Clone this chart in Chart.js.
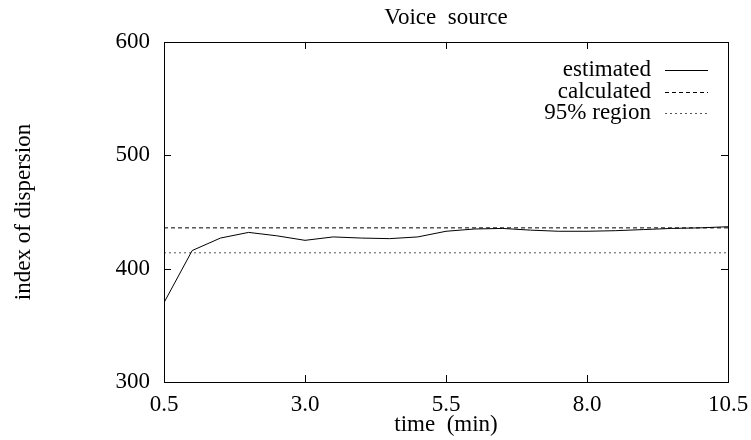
<!DOCTYPE html>
<html>
<head>
<meta charset="utf-8">
<script src="https://cdn.jsdelivr.net/npm/chart.js@4.4.1/dist/chart.umd.min.js"></script>
<style>
  html, body { margin: 0; padding: 0; background: #fff; }
  #wrap { width: 751px; height: 440px; }
</style>
</head>
<body>
<div id="wrap"><canvas id="chart" width="751" height="440"></canvas></div>
<script>
// time (min) for each estimate
var times = [0.5, 1.0, 1.5, 2.0, 2.5, 3.0, 3.5, 4.0, 4.5, 5.0, 5.5,
             6.0, 6.5, 7.0, 7.5, 8.0, 8.5, 9.0, 9.5, 10.0, 10.5];
var estimated = [370, 416, 427, 432, 429, 425, 428, 427, 426.5, 428, 433,
                 435, 435.5, 434, 433, 433, 433.5, 434.5, 435.5, 436, 437];
var calculated = 436;
var region95 = 414;
var xTicks = [0.5, 3.0, 5.5, 8.0, 10.5];
var yTicks = [300, 400, 500, 600];
var seriesNames = ["estimated", "calculated", "95% region"];

var FONT = "'Liberation Serif', 'Times New Roman', serif";
var FS = 23;

function flat(v) {
    return [{ x: times[0], y: v }, { x: times[times.length - 1], y: v }];
}

var estPoints = [];
for (var i = 0; i < times.length; i++) {
    estPoints.push({ x: times[i], y: estimated[i] });
}

// box around the plot and inward ticks on all four sides
var frame = {
    id: "frame",
    afterDatasetsDraw: function (chart) {
        var ctx = chart.ctx;
        var a = chart.chartArea;
        var xs = chart.scales.x, ys = chart.scales.y;
        var len = 7;
        ctx.save();
        ctx.strokeStyle = "#000";
        ctx.lineWidth = 1;
        ctx.setLineDash([]);
        ctx.strokeRect(a.left + 0.5, a.top + 0.5, a.right - a.left, a.bottom - a.top);
        ctx.beginPath();
        xTicks.forEach(function (t) {
            var px = Math.round(xs.getPixelForValue(t)) + 0.5;
            ctx.moveTo(px, a.bottom); ctx.lineTo(px, a.bottom - len);
            ctx.moveTo(px, a.top); ctx.lineTo(px, a.top + len);
        });
        yTicks.forEach(function (t) {
            var py = Math.round(ys.getPixelForValue(t)) + 0.5;
            ctx.moveTo(a.left, py); ctx.lineTo(a.left + len, py);
            ctx.moveTo(a.right, py); ctx.lineTo(a.right - len, py);
        });
        ctx.stroke();

        // legend, text on the left and sample line on the right
        ctx.font = FS + "px " + FONT;
        ctx.fillStyle = "#000";
        ctx.textAlign = "right";
        ctx.textBaseline = "middle";
        chart.data.datasets.forEach(function (ds, k) {
            var y = a.top + 28 + k * 21.5;
            ctx.fillText(ds.label, a.left + 487, y);
            ctx.beginPath();
            ctx.strokeStyle = ds.borderColor;
            ctx.setLineDash(ds.borderDash || []);
            ctx.moveTo(a.left + 501, Math.round(y) + 0.5);
            ctx.lineTo(a.left + 544, Math.round(y) + 0.5);
            ctx.stroke();
        });
        ctx.restore();
    }
};

new Chart(document.getElementById("chart"), {
    type: "line",
    data: {
        datasets: [
            {
                label: seriesNames[0],
                data: estPoints,
                borderColor: "#000",
                borderWidth: 1,
                pointRadius: 0,
                tension: 0
            },
            {
                label: seriesNames[1],
                data: flat(calculated),
                borderColor: "#000",
                borderWidth: 1,
                borderDash: [4, 3],
                pointRadius: 0
            },
            {
                label: seriesNames[2],
                data: flat(region95),
                borderColor: "#555",
                borderWidth: 1,
                borderDash: [2, 3],
                pointRadius: 0
            }
        ]
    },
    options: {
        responsive: false,
        animation: false,
        layout: { padding: { left: 0, right: 23, top: 0, bottom: 1 } },
        plugins: {
            legend: { display: false },
            tooltip: { enabled: false },
            title: {
                display: true,
                fullSize: false,
                text: "Voice  source",
                color: "#000",
                font: { family: FONT, size: FS, weight: "normal" },
                padding: { top: 4, bottom: 10.4 }
            }
        },
        scales: {
            x: {
                type: "linear",
                min: 0.5,
                max: 10.5,
                afterBuildTicks: function (s) {
                    s.ticks = xTicks.map(function (v) { return { value: v }; });
                },
                afterFit: function (s) {
                    s.height = 57;
                    s.paddingLeft = 0;
                    s.paddingRight = 0;
                },
                grid: { display: false, drawTicks: false },
                border: { display: false },
                ticks: {
                    color: "#000",
                    padding: 9,
                    maxRotation: 0,
                    font: { family: FONT, size: FS },
                    callback: function (v) { return v.toFixed(1); }
                },
                title: {
                    display: true,
                    text: "time  (min)",
                    color: "#000",
                    font: { family: FONT, size: FS },
                    padding: { top: 0, bottom: 0 }
                }
            },
            y: {
                min: 300,
                max: 600,
                afterBuildTicks: function (s) {
                    s.ticks = yTicks.map(function (v) { return { value: v }; });
                },
                afterFit: function (s) { s.width = 164; },
                grid: { display: false, drawTicks: false },
                border: { display: false },
                ticks: {
                    color: "#000",
                    padding: 14,
                    font: { family: FONT, size: FS }
                },
                title: {
                    display: true,
                    text: "index of dispersion",
                    color: "#000",
                    font: { family: FONT, size: FS },
                    padding: { top: 10, bottom: 0 }
                }
            }
        }
    },
    plugins: [frame]
});
</script>
</body>
</html>
